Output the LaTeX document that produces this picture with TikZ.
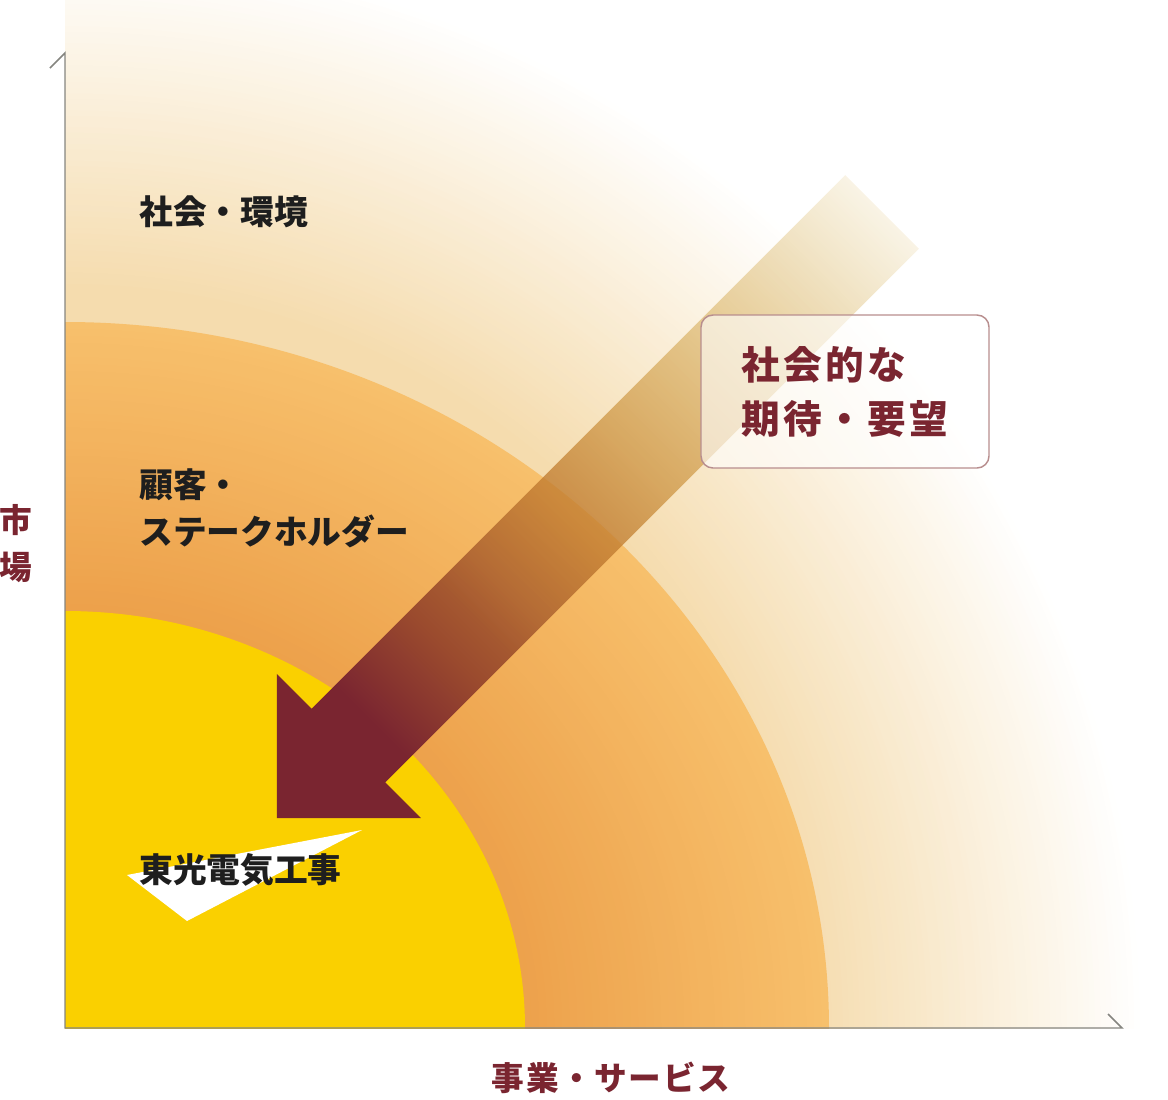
\documentclass[tikz,border=0pt]{standalone}
\usepackage{fontspec}
\setmainfont{Noto Sans CJK JP}
\usetikzlibrary{fadings}

\definecolor{envA}{HTML}{F5DCAE}
\definecolor{ringA}{HTML}{EDA14B}
\definecolor{ringB}{HTML}{F7C06C}
\definecolor{coreyellow}{HTML}{FAD000}
\definecolor{wishred}{HTML}{7A2530}
\definecolor{shaftB}{HTML}{9A4A2E}
\definecolor{shaftC}{HTML}{B06632}
\definecolor{shaftD}{HTML}{C07A30}
\definecolor{shaftE}{HTML}{C88A30}
\definecolor{shaftF}{HTML}{D0A040}
\definecolor{shaftG}{HTML}{D8B458}
\definecolor{textblack}{HTML}{1E1E1E}
\definecolor{axisgray}{HTML}{858580}
\definecolor{boxline}{HTML}{B88E8E}

\pgfdeclarehorizontalshading{shaftshade}{100bp}{color(0bp)=(wishred); color(25bp)=(wishred); color(33bp)=(shaftB); color(40bp)=(shaftC); color(47bp)=(shaftD); color(55bp)=(shaftE); color(65bp)=(shaftF); color(82bp)=(shaftG); color(100bp)=(shaftG)}
\pgfdeclarehorizontalshading{shaftalpha}{100bp}{color(0bp)=(white); color(36bp)=(white); color(47bp)=(black!20); color(54bp)=(black!35); color(64.5bp)=(black!50); color(75bp)=(black!68); color(82bp)=(black!88); color(100bp)=(black)}
\pgfdeclarefading{shaftfade}{\pgfuseshading{shaftalpha}}

\tikzstyle{every node}=[inner sep=0pt,anchor=west]
\tikzstyle{areatext}=[text=textblack,align=left,font=\fontsize{25.3}{35.25}\selectfont\bfseries]
\tikzstyle{axistext}=[text=wishred,anchor=center,font=\fontsize{24.5}{35.25}\selectfont\bfseries\addfontfeature{LetterSpace=5}]
\tikzstyle{wishbox}=[draw=boxline,line width=1.1pt,rounded corners=9pt,fill=white,fill opacity=0.6,text opacity=1,
  text=wishred,anchor=center,align=left,minimum width=216pt,minimum height=114.75pt,
  font=\fontsize{29}{40.5}\selectfont\bfseries\addfontfeature{LetterSpace=8.6}]
\tikzstyle{axis}=[draw=axisgray,line width=1.1pt]

\begin{document}
\begin{tikzpicture}[x=0.75pt,y=-0.75pt]
\useasboundingbox (0,0) rectangle (1168,1100);

\begin{scope}
  \clip (65,0) rectangle (1168,1028);
  % outer glow
  \foreach \i in {0,...,60} {
    \pgfmathsetmacro\rr{1080-\i*5.6}
    \pgfmathtruncatemacro\pp{\i*100/60}
    \fill[envA!\pp!white] (65,1028) circle (\rr);
  }
  % customer ring
  \foreach \i in {0,...,40} {
    \pgfmathsetmacro\ss{1-\i*0.01}
    \pgfmathtruncatemacro\pp{100-\i*2.5}
    \fill[ringB!\pp!ringA] (65,1028) ellipse ({764*\ss} and {706*\ss});
  }
  \fill[coreyellow] (65,1028) ellipse (460 and 417);
  \fill[white] (127,875) -- (362,830) -- (187,921) -- cycle;
  % arrow
  \shade[shading=shaftshade,shading angle=45,path fading=shaftfade,fading angle=45]
    (275,815) -- (275,670) -- (310,705) -- (846.5,168.5) -- (920.5,242.5)
    -- (384,779) -- (420,815) -- cycle;
\end{scope}

\node[wishbox] (wish) at (845,391.5) {社会的な\\期待・要望};

\node[areatext] (env) at (139,212) {社会・環境};
\node[areatext] (cust) at (139,508.5) {顧客・\\ステークホルダー};
\node[areatext] (core) at (139,870) {東光電気工事};

\node[axistext,align=center] (mkt) at (16,543.5) {市\\場};
\node[axistext] (biz) at (611,1078) {事業・サービス};

\draw[axis] (50,68) -- (65,53) -- (65,1028) -- (1122,1028) -- (1108,1014);
\end{tikzpicture}
\end{document}
